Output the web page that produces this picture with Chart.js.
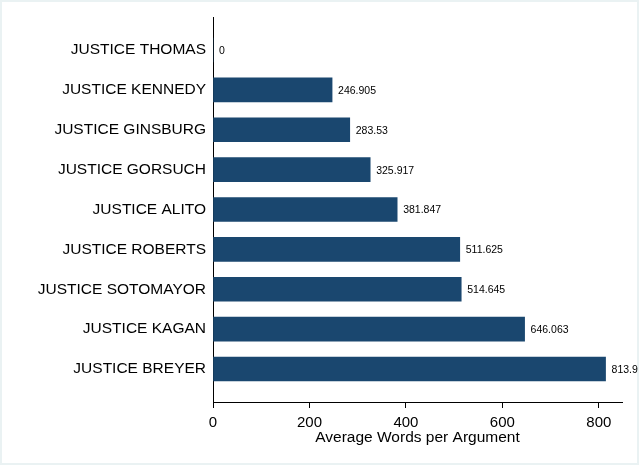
<!DOCTYPE html>
<html>
<head>
<meta charset="utf-8">
<script src="https://cdn.jsdelivr.net/npm/chart.js@4"></script>
<style>
  html, body { margin: 0; padding: 0; background: #fff; }
  #wrap { width: 639px; height: 465px; }
</style>
</head>
<body>
<div id="wrap"><canvas id="chart" width="639" height="465"></canvas></div>
<script>
const justices = ['JUSTICE THOMAS', 'JUSTICE KENNEDY', 'JUSTICE GINSBURG', 'JUSTICE GORSUCH',
    'JUSTICE ALITO', 'JUSTICE ROBERTS', 'JUSTICE SOTOMAYOR', 'JUSTICE KAGAN', 'JUSTICE BREYER'];
const avgWords = [0, 246.905, 283.53, 325.917, 381.847, 511.625, 514.645, 646.063, 813.9];
const xTicks = [0, 200, 400, 600, 800];

const FONT = 'Liberation Sans, Arial, sans-serif';

// stata style frame: pale border, white inside
const frame = {
    id: 'frame',
    beforeDraw(chart) {
        const c = chart.ctx;
        c.save();
        c.fillStyle = '#eaf2f3';
        c.fillRect(0, 0, chart.width, chart.height);
        c.fillStyle = '#ffffff';
        c.fillRect(2, 2, chart.width - 4, chart.height - 4);
        c.restore();
    }
};

// value labels right of each bar
const barLabels = {
    id: 'barLabels',
    afterDatasetsDraw(chart) {
        const c = chart.ctx;
        const meta = chart.getDatasetMeta(0);
        c.save();
        c.font = '10.5px ' + FONT;
        c.fillStyle = '#000';
        c.textAlign = 'left';
        c.textBaseline = 'middle';
        meta.data.forEach((bar, i) => {
            c.fillText(String(avgWords[i]), bar.x + 6, bar.y + 1);
        });
        c.restore();
    }
};

const ctx = document.getElementById('chart').getContext('2d');
const chart = new Chart(ctx, {
    type: 'bar',
    data: {
        datasets: [{
            data: avgWords.map((v, i) => ({x: v, y: i})),
            backgroundColor: '#1a476f',
            borderWidth: 0,
            barThickness: 24
        }]
    },
    options: {
        indexAxis: 'y',
        responsive: false,
        animation: false,
        layout: { padding: { top: 17, right: 17, bottom: 0, left: 0 } },
        plugins: { legend: { display: false }, tooltip: { enabled: false } },
        scales: {
            x: {
                type: 'linear',
                min: 0,
                max: 848,
                afterBuildTicks: s => { s.ticks = xTicks.map(v => ({value: v})); },
                afterFit: s => { s.height = 63; },
                grid: { display: true, drawOnChartArea: false, drawTicks: true, tickLength: 6, color: '#000' },
                border: { display: true, color: '#000', width: 1 },
                ticks: { color: '#000', padding: 6, maxRotation: 0, font: { family: FONT, size: 15 } },
                title: {
                    display: true,
                    text: 'Average Words per Argument',
                    color: '#000',
                    padding: { top: 18, bottom: 18 },
                    font: { family: FONT, size: 15.5 }
                }
            },
            y: {
                type: 'linear',
                reverse: true,
                offset: false,
                min: -0.828,
                max: 8.828,
                afterBuildTicks: s => { s.ticks = justices.map((_, i) => ({value: i})); },
                afterFit: s => { s.width = 213; },
                grid: { display: false, drawTicks: false, offset: false },
                border: { display: true, color: '#000', width: 1 },
                ticks: {
                    color: '#000',
                    padding: 7,
                    font: { family: FONT, size: 15.5 },
                    callback: v => justices[v]
                }
            }
        }
    },
    plugins: [frame, barLabels]
});
</script>
</body>
</html>
